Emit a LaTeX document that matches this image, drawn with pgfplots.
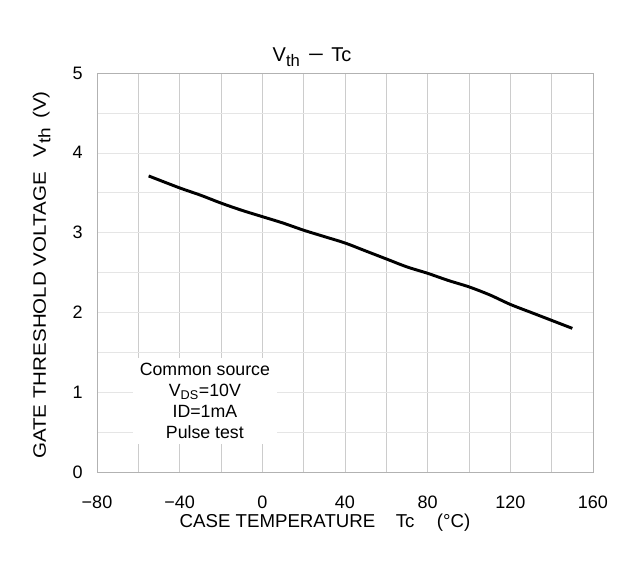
\documentclass[border=0pt]{standalone}
\usepackage{fontspec}
\setmainfont{Liberation Sans}
\usepackage{pgfplots}
\pgfplotsset{compat=1.18}

\pgfplotstableread{
T    V
-55  3.71
-40  3.56
-30  3.47
-20  3.37
-10  3.28
0    3.20
10   3.12
20   3.03
30   2.95
40   2.87
50   2.77
60   2.67
70   2.57
80   2.49
90   2.40
100  2.32
110  2.22
120  2.10
130  2.00
140  1.90
150  1.80
}\vthdata

\newcommand{\sub}[1]{\raisebox{-3.5pt}{\fontsize{12.5}{12.5}\selectfont #1}}

\begin{document}
\fontsize{13.5}{16}\selectfont
\begin{tikzpicture}
\begin{axis}[
    name=ax, at={(0,0)}, anchor=south west,
    scale only axis, width=372pt, height=299.25pt,
    xmin=-80, xmax=160, ymin=0, ymax=5,
    xtick={-80,-40,0,40,80,120,160},
    xticklabels={−80,−40,0,40,80,120,160},
    minor x tick num=1,
    ytick={0,1,2,3,4,5},
    minor y tick num=1,
    grid=both,
    major grid style={draw=gray!40},
    minor grid style={draw=gray!40},
    every axis y grid/.append style={draw=gray!20},
    axis line style={draw=gray!60},
    major tick length=0pt, minor tick length=0pt,
    xticklabel style={yshift=-13pt},
    yticklabel style={xshift=-6pt},
    /pgf/number format/assume math mode=true,
    clip=false,
]
\node[fill=white, align=center, inner xsep=5pt, inner ysep=4pt,
      font=\fontsize{13.3}{15.75}\selectfont]
  at (axis cs:-27.8,0.89)
  {Common source\\V\textsubscript{\fontsize{9.5}{9.5}\selectfont DS}=10V\\ID=1mA\\Pulse test};
\addplot[black, line width=2.2pt, smooth] table[x=T, y=V] {\vthdata};
\end{axis}
\node[font=\fontsize{15}{17}\selectfont] at (161.25pt,311pt)
  {V\sub{th}\hspace{0.4em}\scalebox{1.4}[1]{−}\hspace{0.35em}Tc};
\node[font=\fontsize{14}{16}\selectfont] at (171pt,-38.25pt)
  {CASE TEMPERATURE\hspace{1.1em}Tc\hspace{1.2em}(°C)};
\node[rotate=90, font=\fontsize{13.5}{16}\selectfont] at (-41.5pt,147.75pt)
  {\scalebox{1.143}[1]{GATE THRESHOLD VOLTAGE\hspace{0.7em}V\sub{th}\hspace{0.45em}(V)}};
\pgfresetboundingbox
\path[use as bounding box] (-72.75pt,-67.5pt) rectangle (390.75pt,354pt);
\end{tikzpicture}
\end{document}
